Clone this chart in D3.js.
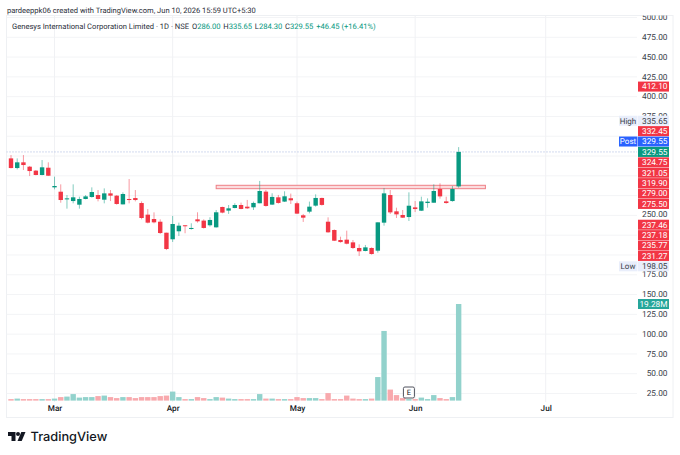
<!DOCTYPE html>
<html>
<head>
<meta charset="utf-8">
<script src="https://cdn.jsdelivr.net/npm/d3@7"></script>
<style>
  html, body {margin: 0; padding: 0; background: #fff;}
  svg {display: block;}
  text {font-family: Roboto, "Noto Sans", sans-serif; text-rendering: geometricPrecision;}
</style>
</head>
<body>
<div id="chart"></div>
<script>
// candles, one trading day per slot
const opens = [321.4,309.2,316.4,310.9,305.9,300.4,309.6,284.8,279.3,269.6,267.5,262.9,270.1,272.6,275.1,269.2,277.2,274.3,263.3,270.1,271.3,265.0,250.3,244.8,241.4,227.5,
  219.2,229.3,236.9,232.2,244.4,242.8,236.9,234.3,260.0,255.4,258.7,262.5,260.4,259.6,264.7,279.4,263.0,272.2,266.8,271.0,264.7,249.5,254.1,261.7,271.4,
  241.4,230.9,218.3,218.7,215.3,208.2,204.4,208.2,204.8,240.2,275.1,254.5,249.9,247.3,259.5,255.3,265.0,265.4,282.7,267.1,267.5,286.0];
const highs = [325.6,321.4,325.6,311.8,306.7,319.3,316.4,298.3,288.6,275.1,288.6,273.0,275.1,284.8,281.4,283.5,281.4,275.1,278.5,295.3,281.4,267.1,257.4,253.2,244.4,227.5,
  248.7,240.2,236.9,239.4,253.3,244.4,247.0,256.2,260.4,262.5,264.7,265.5,268.9,266.8,292.9,281.5,277.3,275.2,279.8,276.9,266.8,251.2,266.8,276.0,271.8,
  246.9,231.7,222.5,230.1,218.3,212.8,212.0,209.0,240.6,284.0,281.4,259.1,256.2,278.5,267.5,273.0,270.9,288.6,289.9,273.0,286.5,335.65];
const lows = [308.8,307.5,306.7,299.1,300.0,300.0,299.1,282.3,265.4,257.9,264.6,257.9,269.6,271.8,267.1,264.6,267.5,262.9,263.3,264.6,267.1,244.4,239.3,239.3,225.9,205.6,
  215.8,223.4,226.8,231.4,240.2,232.7,235.2,233.9,252.0,251.2,258.3,257.1,257.5,256.2,264.7,260.4,262.5,264.2,266.3,263.8,251.2,241.1,252.0,260.4,261.7,
  227.5,217.0,214.9,212.8,206.9,198.05,204.0,199.7,202.3,236.4,251.1,246.1,246.1,242.3,253.6,254.9,259.1,265.4,270.5,264.2,266.7,284.3];
const closes = [309.2,316.4,313.0,305.4,300.4,310.1,299.5,286.5,268.8,270.9,272.2,270.1,273.4,278.9,270.1,277.2,274.3,263.8,276.4,268.8,268.8,246.1,240.2,240.6,227.1,206.9,
  238.5,236.4,236.0,233.5,241.9,233.5,243.6,253.3,252.9,258.3,262.5,257.5,258.3,265.1,280.2,261.3,272.7,265.1,273.5,268.4,251.6,246.5,260.4,271.4,262.6,
  228.0,217.4,215.7,213.6,208.2,204.0,209.0,200.6,240.6,277.2,253.2,250.7,246.5,261.6,257.4,267.1,266.7,280.2,273.4,265.0,282.7,329.55];
// volume in millions
const volumes = [0.3,0.4,0.3,0.3,0.3,0.3,0.3,0.4,0.7,0.8,1.3,0.6,0.7,0.7,0.9,1.0,0.7,0.5,0.7,0.7,0.5,0.7,0.7,0.7,0.9,1.0,
  1.8,0.7,0.3,0.3,0.7,0.5,0.3,0.7,0.6,0.4,0.3,0.3,0.3,0.3,1.3,0.4,0.4,0.3,0.3,0.3,0.7,0.5,0.5,0.5,0.3,
  1.5,0.3,0.3,1.0,0.4,0.3,0.3,0.4,4.7,13.9,2.2,1.1,0.5,0.3,0.3,0.6,0.3,1.1,0.5,0.3,0.7,19.28];

const monthTicks = [7, 26, 46, 65, 86];
const monthNames = ["Mar", "Apr", "May", "Jun", "Jul"];
// every gridline; the ones in labelledTicks also show their number
const priceTicks = [500,475,450,425,400,375,350,325,300,275,250,225,200,175,150,125,100,75,50,25];
const labelledTicks = [500,475,450,425,400,375,175,150,125,100,75,50,25];

// zone drawn on the chart: from slot, to slot, top price, bottom price
const zoneSlots = [33, 76.3];
const zonePrices = [287.4, 283.1];
const earningsSlot = 64;
const lastPrice = 329.55;
const legendParts = [["O", "286.00"], ["H", "335.65"], ["L", "284.30"], ["C", "329.55"], ["", "+46.45 (+16.41%)"]];

// right hand scale labels, stacked away from the last price like the original
const labelsAbove = [
  {text: "329.55", tag: "Post", kind: "post"},
  {text: "332.45", kind: "red"},
  {text: "335.65", tag: "High", kind: "soft"}
];
const labelsBelow = [
  {text: "324.75", kind: "red"}, {text: "321.05", kind: "red"}, {text: "319.90", kind: "red"},
  {text: "279.00", kind: "red"}, {text: "275.50", kind: "red"}, {text: "250.00", kind: "none"},
  {text: "237.46", kind: "red"}, {text: "237.18", kind: "red"}, {text: "235.77", kind: "red"},
  {text: "231.27", kind: "red"}, {text: "198.05", tag: "Low", kind: "soft"}
];

const W = 680, H = 455;
const RED = "#f23645", GREEN = "#089981";
const frame = {left: 6.5, top: 15.5, right: 673, bottom: 417.5};
const gridRight = 637, volBase = 400.6;

const svg = d3.select("#chart").append("svg").attr("width", W).attr("height", H);

const x = d3.scaleLinear().domain([0, 86]).range([11, 545.7]);
const y = d3.scaleLinear().domain([0, 500]).range([412.8, 17]);
const yVol = d3.scaleLinear().domain([0, 19.28]).range([volBase, 304]);

svg.append("defs").append("clipPath").attr("id", "plot")
  .append("rect")
  .attr("x", frame.left).attr("y", frame.top)
  .attr("width", frame.right - frame.left).attr("height", frame.bottom - frame.top);

// frame
svg.append("rect")
  .attr("x", frame.left).attr("y", frame.top)
  .attr("width", frame.right - frame.left).attr("height", frame.bottom - frame.top)
  .attr("fill", "none").attr("stroke", "#eef0f3");

const root = svg.append("g").attr("clip-path", "url(#plot)");

// grid
root.selectAll(".gridY").data(priceTicks).enter().append("line")
  .attr("x1", frame.left).attr("x2", gridRight)
  .attr("y1", d => y(d) + 0.5).attr("y2", d => y(d) + 0.5)
  .attr("stroke", "#f3f4f6");
root.selectAll(".gridX").data(monthTicks).enter().append("line")
  .attr("x1", d => x(d)).attr("x2", d => x(d))
  .attr("y1", frame.top).attr("y2", 402)
  .attr("stroke", "#f0f1f4");

// volume
const slots = d3.range(closes.length);
root.selectAll(".vol").data(slots).enter().append("rect")
  .attr("x", i => x(i) - 2.7)
  .attr("width", 5.4)
  .attr("y", i => yVol(volumes[i]))
  .attr("height", i => volBase - yVol(volumes[i]))
  .attr("fill", i => closes[i] >= opens[i] ? "#92d2cc" : "#f8a9ad");

// last price line
root.append("line")
  .attr("x1", frame.left).attr("x2", gridRight)
  .attr("y1", y(lastPrice)).attr("y2", y(lastPrice))
  .attr("stroke", "#8fa3d8").attr("stroke-width", 0.8)
  .attr("stroke-dasharray", "1,2");

// zone
root.append("rect")
  .attr("x", x(zoneSlots[0])).attr("width", x(zoneSlots[1]) - x(zoneSlots[0]))
  .attr("y", y(zonePrices[0])).attr("height", y(zonePrices[1]) - y(zonePrices[0]))
  .attr("fill", "#fbdcde").attr("stroke", "#ee7f86").attr("stroke-width", 1);

// candles
root.selectAll(".wick").data(slots).enter().append("line")
  .attr("x1", i => x(i)).attr("x2", i => x(i))
  .attr("y1", i => y(highs[i])).attr("y2", i => y(lows[i]))
  .attr("stroke", i => closes[i] >= opens[i] ? GREEN : RED)
  .attr("stroke-opacity", 0.5);
root.selectAll(".body").data(slots).enter().append("rect")
  .attr("x", i => x(i) - 2.2)
  .attr("width", 4.4)
  .attr("y", i => y(Math.max(opens[i], closes[i])))
  .attr("height", i => Math.max(1, Math.abs(y(opens[i]) - y(closes[i]))))
  .attr("fill", i => closes[i] >= opens[i] ? GREEN : RED);

// earnings marker
const mark = root.append("g").attr("transform", "translate(" + x(earningsSlot) + ",392.5)");
mark.append("rect").attr("x", -5.5).attr("y", -5.5).attr("width", 11).attr("height", 11).attr("rx", 1.5)
  .attr("fill", "#fff").attr("stroke", "#50535e");
mark.append("text").attr("text-anchor", "middle").attr("dy", "0.35em")
  .attr("font-size", 7.5).attr("fill", "#131722").text("E");

// month axis
const xAxis = d3.axisBottom(x).tickValues(monthTicks)
  .tickFormat((d, i) => monthNames[i]).tickSize(0).tickPadding(0);
const gx = root.append("g").attr("transform", "translate(0,405)").call(xAxis);
gx.select(".domain").remove();
gx.selectAll("text").attr("font-size", 8.2).attr("font-weight", 500).attr("fill", "#131722")
  .style("font-family", "Roboto, sans-serif");

// price axis
const yAxis = d3.axisLeft(y).tickValues(labelledTicks)
  .tickFormat(d3.format(".2f")).tickSize(0).tickPadding(0);
const gy = root.append("g").attr("transform", "translate(667.5,0)").call(yAxis);
gy.select(".domain").remove();
gy.selectAll("text").attr("font-size", 8.3).attr("fill", "#3a3e4a")
  .style("font-family", "Roboto, sans-serif");

// scale labels
const labelColors = {
  red: {bg: RED, fg: "#fff"},
  green: {bg: GREEN, fg: "#fff"},
  vol: {bg: "#26a69a", fg: "#fff"},
  post: {bg: "#2962ff", fg: "#fff"},
  soft: {bg: "#e9eefb", fg: "#3a3e4a"},
  none: {bg: "#fff", fg: "#3a3e4a"}
};
const rowH = 10.4;

function drawLabel(d, cy) {
  const c = labelColors[d.kind];
  const g = svg.append("g").attr("transform", "translate(0," + cy + ")");
  g.append("rect").attr("x", 638).attr("y", -rowH / 2 + 0.2).attr("width", 31).attr("height", rowH - 0.4)
    .attr("fill", c.bg);
  g.append("text").attr("x", 667.5).attr("text-anchor", "end").attr("dy", "0.35em")
    .attr("font-size", 8.3).attr("fill", c.fg).text(d.text);
  if (d.tag) {
    g.append("rect").attr("x", 619).attr("y", -rowH / 2 + 0.2).attr("width", 18.5).attr("height", rowH - 0.4)
      .attr("fill", c.bg);
    g.append("text").attr("x", 628).attr("dy", "0.35em").attr("text-anchor", "middle")
      .attr("font-size", 8).attr("fill", c.fg).text(d.tag);
  }
}

const anchor = y(lastPrice);
labelsAbove.forEach((d, i) => drawLabel(d, anchor - (i + 1) * rowH));
labelsBelow.forEach((d, i) => drawLabel(d, anchor + (i + 1) * rowH));
drawLabel({text: "329.55", kind: "green"}, anchor);
drawLabel({text: "412.10", kind: "red"}, y(412.10));
drawLabel({text: "19.28M", kind: "vol"}, yVol(19.28));

// titles
svg.append("text").attr("x", 7).attr("y", 13).attr("font-size", 7.55).attr("fill", "#2a2e39")
  .text("pardeeppk06 created with TradingView.com, Jun 10, 2026 15:59 UTC+5:30");

const legend = svg.append("text").attr("x", 12).attr("y", 29).attr("font-size", 7.6).attr("fill", "#2a2e39");
legend.append("tspan").text("Genesys International Corporation Limited \u00b7 1D \u00b7 NSE");
legendParts.forEach(p => {
  if (p[0]) legend.append("tspan").attr("dx", 2.8).text(p[0]);
  const v = legend.append("tspan").attr("fill", GREEN).text(p[1]);
  if (!p[0]) v.attr("dx", 2.8);
});

// logo
const logo = svg.append("g").attr("fill", "#131722");
logo.append("path").attr("d", "M8 432H15.5V441H11.5V436H8Z");
logo.append("circle").attr("cx", 18).attr("cy", 434).attr("r", 2);
logo.append("path").attr("d", "M17.5 441L21.3 432H25.5L21.7 441Z");
svg.append("text").attr("x", 30.5).attr("y", 441).attr("font-size", 12.8).attr("font-weight", 500)
  .attr("fill", "#131722").style("font-family", "Inter, Roboto, sans-serif").text("TradingView");
</script>
</body>
</html>
